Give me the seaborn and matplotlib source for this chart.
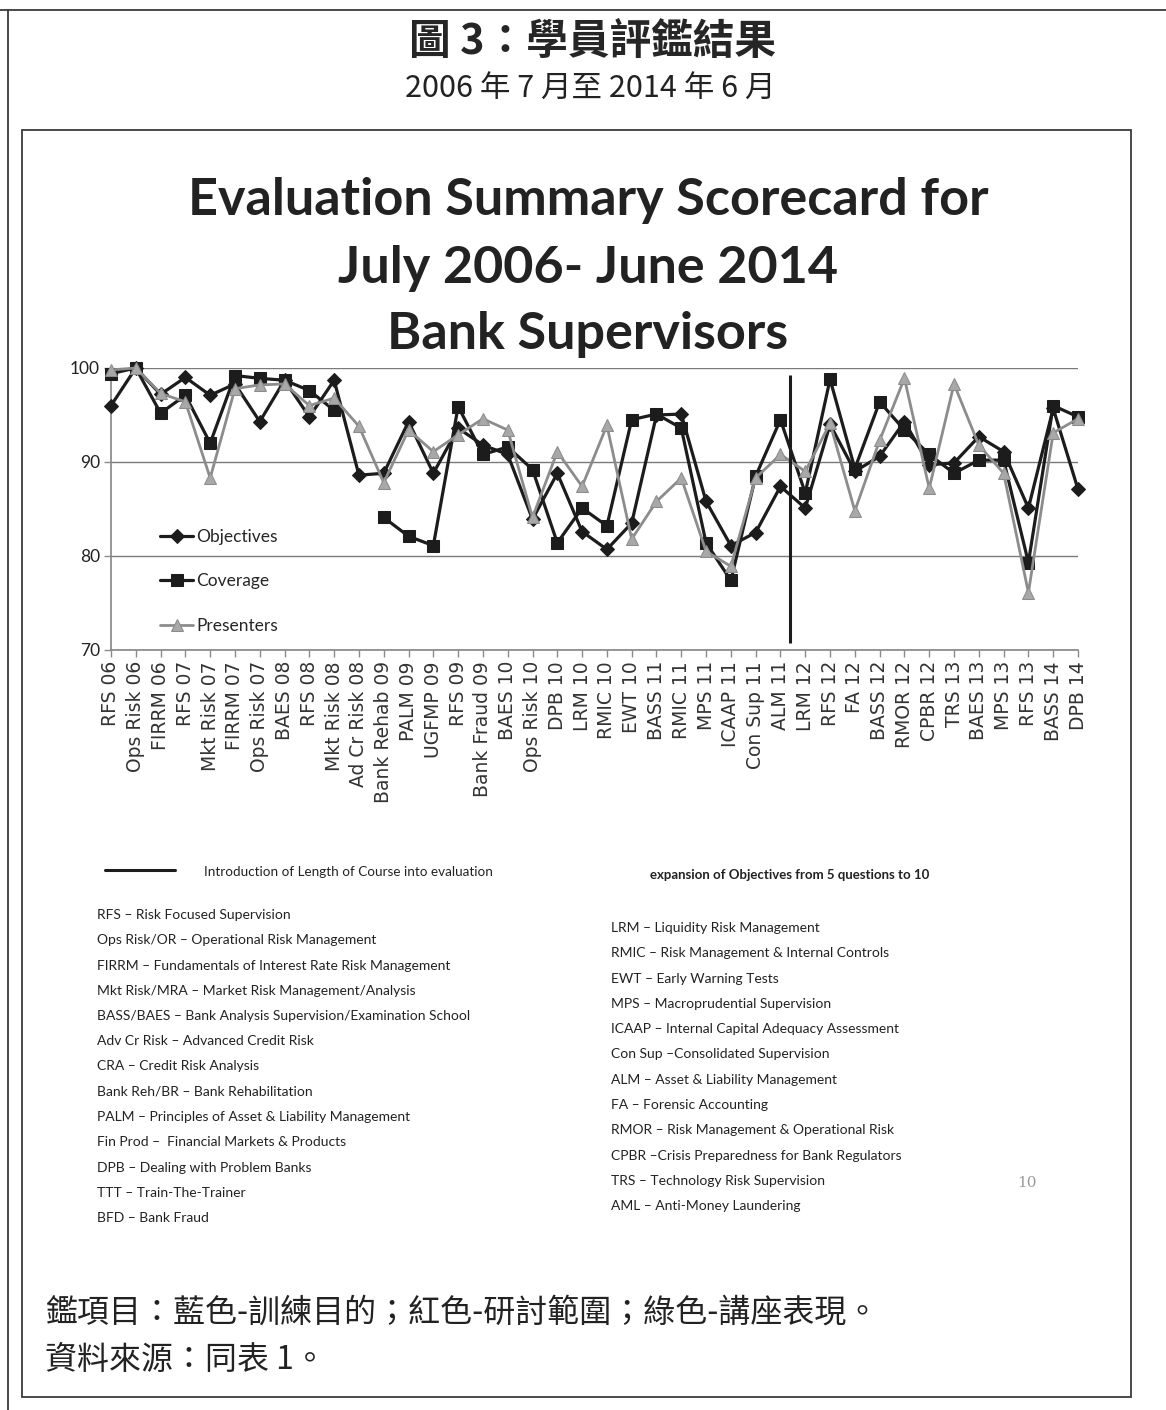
import numpy as np
import pandas as pd
import matplotlib.pyplot as plt
import seaborn as sns
from matplotlib.lines import Line2D
from matplotlib.patches import Rectangle

categories = ["RFS 06", "Ops Risk 06", "FIRRM 06", "RFS 07", "Mkt Risk 07", "FIRRM 07",
              "Ops Risk 07", "BAES 08", "RFS 08", "Mkt Risk 08", "Ad Cr Risk 08",
              "Bank Rehab 09", "PALM 09", "UGFMP 09", "RFS 09", "Bank Fraud 09",
              "BAES 10", "Ops Risk 10", "DPB 10", "LRM 10", "RMIC 10", "EWT 10",
              "BASS 11", "RMIC 11", "MPS 11", "ICAAP 11", "Con Sup 11", "ALM 11",
              "LRM 12", "RFS 12", "FA 12", "BASS 12", "RMOR 12", "CPBR 12", "TRS 13",
              "BAES 13", "MPS 13", "RFS 13", "BASS 14", "DPB 14"]

objectives = [96.0, 100.0, 97.2, 99.0, 97.1, 98.3, 94.3, 98.7, 94.8, 98.7,
              88.6, 88.8, 94.3, 88.8, 93.6, 91.8, 90.8, 83.9, 88.8, 82.6,
              80.7, 83.5, 95.0, 95.1, 85.8, 81.1, 82.5, 87.4, 85.1, 94.0,
              89.0, 90.6, 94.3, 89.7, 89.9, 92.7, 91.1, 85.1, 95.7, 87.1]

coverage = [99.4, 100.0, 95.2, 97.1, 92.0, 99.2, 98.9, 98.7, 97.6, 95.5,
            np.nan, 84.1, 82.1, 81.1, 95.9, 90.8, 91.6, 89.2, 81.4, 85.1,
            83.2, 94.5, 95.1, 93.6, 81.4, 77.4, 88.5, 94.5, 86.7, 98.8,
            89.3, 96.4, 93.4, 90.8, 88.8, 90.2, 90.2, 79.3, 96.0, 94.8]

presenters = [99.8, 100.0, 97.3, 96.4, 88.3, 97.8, 98.2, 98.3, 96.0, 96.8,
              93.8, 87.8, 93.4, 91.1, 92.9, 94.6, 93.4, 84.1, 91.1, 87.4,
              93.9, 81.8, 85.8, 88.3, 80.5, 78.9, 88.3, 90.8, 89.0, 94.1,
              84.8, 92.3, 98.9, 87.2, 98.3, 91.8, 88.8, 76.1, 93.1, 94.6]

# course length added to evaluation between ALM 11 and LRM 12
length_intro = 27.4

left_notes = ["RFS – Risk Focused Supervision",
              "Ops Risk/OR – Operational Risk Management",
              "FIRRM – Fundamentals of Interest Rate Risk Management",
              "Mkt Risk/MRA – Market Risk Management/Analysis",
              "BASS/BAES – Bank Analysis Supervision/Examination School",
              "Adv Cr Risk – Advanced Credit Risk",
              "CRA – Credit Risk Analysis",
              "Bank Reh/BR – Bank Rehabilitation",
              "PALM – Principles of Asset & Liability Management",
              "Fin Prod –  Financial Markets & Products",
              "DPB – Dealing with Problem Banks",
              "TTT – Train-The-Trainer",
              "BFD – Bank Fraud"]

right_notes = ["LRM – Liquidity Risk Management",
               "RMIC – Risk Management & Internal Controls",
               "EWT – Early Warning Tests",
               "MPS – Macroprudential Supervision",
               "ICAAP – Internal Capital Adequacy Assessment",
               "Con Sup –Consolidated Supervision",
               "ALM – Asset & Liability Management",
               "FA – Forensic Accounting",
               "RMOR – Risk Management & Operational Risk",
               "CPBR –Crisis Preparedness for Bank Regulators",
               "TRS – Technology Risk Supervision",
               "AML – Anti-Money Laundering"]

sns.set_theme(style="white")
plt.rcParams['font.family'] = ['Lato', 'DejaVu Sans']
cjk = ['Noto Sans CJK TC', 'DejaVu Sans']

df = pd.DataFrame({'pos': np.arange(len(categories)), 'course': categories,
                   'Objectives': objectives, 'Coverage': coverage,
                   'Presenters': presenters})
df['cov_seg'] = df['Coverage'].isna().cumsum()

W, H = 1166, 1410
fig = plt.figure(figsize=(W / 100, H / 100), dpi=100)
ax = fig.add_axes([111 / W, 1 - 650 / H, 967 / W, 282 / H])

dark = '#1c1c1c'
grey = '#8c8c8c'

sns.lineplot(data=df, x='pos', y='Objectives', ax=ax, color=dark, lw=2.3,
             marker='D', markersize=7.5, markeredgecolor=dark, clip_on=False,
             label='Objectives', zorder=4)
first = True
for seg, part in df.dropna(subset=['Coverage']).groupby('cov_seg'):
    sns.lineplot(data=part, x='pos', y='Coverage', ax=ax, color=dark, lw=2.3,
                 marker='s', markersize=8.5, markeredgecolor=dark, clip_on=False,
                 label='Coverage' if first else None, zorder=3)
    first = False
sns.lineplot(data=df, x='pos', y='Presenters', ax=ax, color=grey, lw=2.0,
             marker='^', markersize=8, markerfacecolor='#a8a8a8',
             markeredgecolor=grey, clip_on=False, label='Presenters', zorder=5)

ax.vlines(length_intro, 70.7, 99.3, color=dark, lw=2.2, zorder=6)

ax.set_xlim(0, len(categories) - 1)
ax.set_ylim(70, 100)
ax.set_xticks(df['pos'])
ax.set_xticklabels(categories, rotation=90, fontfamily='DejaVu Sans',
                   fontsize=13.5, color='#333333')
ax.set_yticks([70, 80, 90, 100])
ax.set_yticklabels(['70', '80', '90', '100'], fontsize=12.5, color='#222222')
ax.set_xlabel('')
ax.set_ylabel('')
ax.grid(axis='y', color='#7a7a7a', lw=1.0)
ax.set_axisbelow(True)
for s in ['top', 'right']:
    ax.spines[s].set_visible(False)
for s in ['left', 'bottom']:
    ax.spines[s].set_color('#8a8a8a')
ax.tick_params(bottom=True, left=True, direction='out', length=5, width=1,
               color='#8a8a8a', pad=3)

handles, labels = ax.get_legend_handles_labels()
ax.legend(handles, labels, loc='center left', bbox_to_anchor=(0.051, 0.243),
          frameon=False, fontsize=12.5, labelspacing=1.65, handlelength=1.9,
          handletextpad=0.15, borderpad=0, borderaxespad=0)

# headings
fig.text(0.508, 1 - 42 / H, "圖 3：學員評鑑結果", ha='center', va='center',
         fontsize=30, fontweight='bold', family=cjk)
fig.text(0.506, 1 - 88 / H, "2006 年 7 月至 2014 年 6 月", ha='center', va='center',
         fontsize=22, family=cjk, color='#222222')
for txt, yy in zip(["Evaluation Summary Scorecard for", "July 2006- June 2014",
                    "Bank Supervisors"], [200, 268, 335]):
    fig.text(588 / W, 1 - yy / H, txt, ha='center', va='center', fontsize=37.5,
             fontweight='bold', color='#222222')

# notes under the chart
fig.add_artist(Line2D([105 / W, 175 / W], [1 - 870 / H] * 2, color=dark, lw=2.2))
fig.text(204 / W, 1 - 872 / H, "Introduction of Length of Course into evaluation",
         ha='left', va='center', fontsize=9.7, color='#222222')
fig.text(650 / W, 1 - 875 / H, "expansion of Objectives from 5 questions to 10",
         ha='left', va='center', fontsize=9.5, fontweight='bold', color='#222222')
for i, t in enumerate(left_notes):
    fig.text(97 / W, 1 - (915 + 25.25 * i) / H, t, ha='left', va='center',
             fontsize=10, color='#222222')
for i, t in enumerate(right_notes):
    fig.text(611 / W, 1 - (928 + 25.3 * i) / H, t, ha='left', va='center',
             fontsize=10, color='#222222')
fig.text(1027 / W, 1 - 1183 / H, "10", ha='center', va='center', fontsize=11,
         family='DejaVu Serif', color='#9a9a9a')

fig.text(45 / W, 1 - 1313 / H, "鑑項目：藍色-訓練目的；紅色-研討範圍；綠色-講座表現。",
         ha='left', va='center', fontsize=23, color='#222222', family=cjk)
fig.text(45 / W, 1 - 1360 / H, "資料來源：同表 1。", ha='left', va='center',
         fontsize=23, color='#222222', family=cjk)

# frames
fig.add_artist(Rectangle((22 / W, 1 - 1397 / H), (1131 - 22) / W, (1397 - 130) / H,
                         transform=fig.transFigure, fill=False, ec='#3a3a3a', lw=1.3))
fig.add_artist(Line2D([8 / W, 8 / W], [0, 1 - 10 / H], color='#3a3a3a', lw=1.3))
fig.add_artist(Line2D([0, 1], [1 - 10 / H] * 2, color='#3a3a3a', lw=1.3))

fig.savefig('out.png', dpi=100)
